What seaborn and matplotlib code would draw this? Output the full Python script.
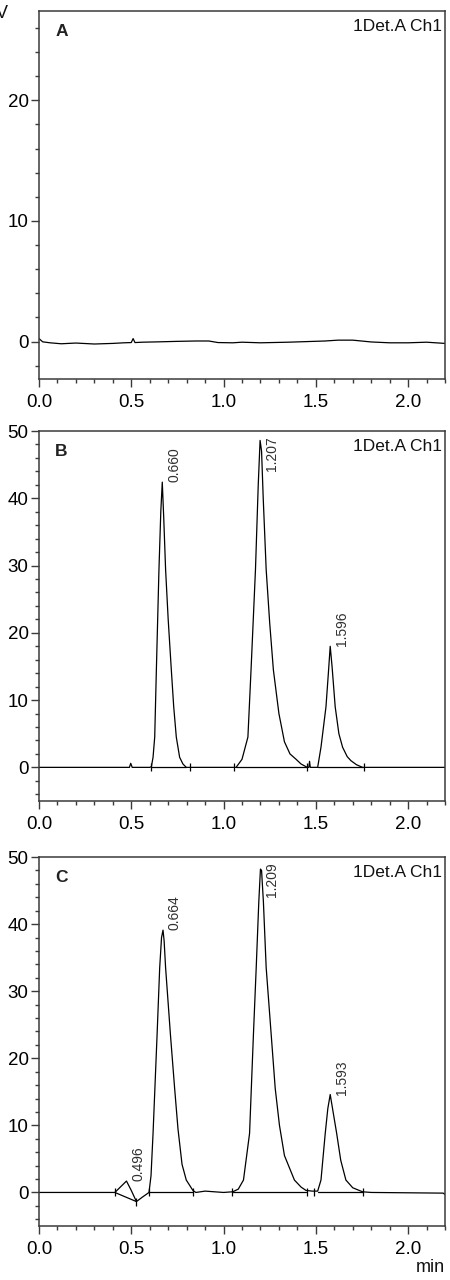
import numpy as np
import pandas as pd
import matplotlib
matplotlib.use("Agg")
import matplotlib.pyplot as plt
import seaborn as sns
from matplotlib import font_manager
from matplotlib.ticker import MultipleLocator

# ---------------- data ----------------
a_time = [0.0, 0.02, 0.06, 0.12, 0.20, 0.30, 0.40, 0.46, 0.50, 0.51, 0.52, 0.56, 0.65, 0.75, 0.85,
          0.92, 0.97, 1.05, 1.10, 1.20, 1.35, 1.45, 1.55, 1.62, 1.70, 1.80, 1.90, 2.00, 2.10, 2.20]
a_signal = [0.25, -0.02, -0.10, -0.18, -0.12, -0.20, -0.15, -0.10, -0.08, 0.25, -0.08, -0.05, -0.02, 0.02, 0.05,
            0.05, -0.08, -0.10, -0.05, -0.10, -0.05, 0.00, 0.05, 0.12, 0.12, -0.03, -0.10, -0.10, -0.05, -0.15]

b_time = [0.00, 0.49, 0.497, 0.505, 0.600, 0.609, 0.618, 0.627, 0.636, 0.650, 0.660, 0.668, 0.676, 0.686,
          0.700, 0.717, 0.730, 0.744, 0.762, 0.780, 0.798, 1.068, 1.100, 1.132, 1.149, 1.173, 1.188, 1.198,
          1.206, 1.215, 1.231, 1.250, 1.270, 1.300, 1.330, 1.360, 1.393, 1.420, 1.454, 1.462, 1.466, 1.470,
          1.510, 1.528, 1.555, 1.568, 1.578, 1.588, 1.605, 1.625, 1.645, 1.670, 1.690, 1.720, 1.753, 2.200]
b_signal = [0.0, 0.0, 0.6, 0.0, 0.0, 0.1, 1.5, 4.5, 14.5, 29.4, 38.0, 42.4, 37.0, 29.4,
            22.0, 14.5, 9.0, 4.5, 1.5, 0.5, 0.0, 0.0, 1.2, 4.5, 14.5, 29.4, 42.0, 48.6,
            47.0, 40.0, 29.4, 21.5, 14.5, 8.0, 3.8, 2.0, 1.2, 0.5, 0.0, 0.0, 0.9, 0.0,
            0.0, 3.0, 9.0, 14.0, 18.0, 15.0, 9.0, 5.0, 3.0, 1.6, 1.0, 0.4, 0.0, 0.0]

c_time = [0.000, 0.411, 0.474, 0.500, 0.528, 0.560, 0.596, 0.607, 0.618, 0.640, 0.654, 0.664, 0.672, 0.678,
          0.686, 0.712, 0.735, 0.753, 0.775, 0.798, 0.834, 0.850, 0.900, 0.950, 1.000, 1.050, 1.080, 1.108,
          1.141, 1.162, 1.177, 1.191, 1.200, 1.206, 1.216, 1.231, 1.258, 1.280, 1.303, 1.330, 1.384, 1.420,
          1.447, 1.480, 1.510, 1.528, 1.551, 1.565, 1.578, 1.590, 1.613, 1.635, 1.663, 1.700, 1.753, 1.800,
          2.190, 2.200]
c_signal = [0.0, 0.0, 1.7, 0.3, -1.36, -0.7, 0.0, 2.5, 8.8, 23.6, 33.5, 38.0, 39.1, 37.5,
            33.5, 23.6, 15.5, 9.5, 4.2, 1.85, 0.3, 0.0, 0.2, 0.1, 0.0, 0.1, 0.5, 1.85,
            8.8, 23.6, 33.5, 43.3, 48.2, 48.0, 43.3, 33.5, 23.6, 15.5, 10.0, 5.5, 1.85, 0.8,
            0.3, 0.2, 0.2, 1.85, 8.8, 12.5, 14.6, 12.6, 8.8, 4.8, 1.85, 0.7, 0.1, 0.0,
            -0.1, -0.3]

# integration baselines (start, end) per peak
b_base_start_t = [0.609, 1.068, 1.510]
b_base_start_y = [0.0, 0.0, 0.0]
b_base_end_t = [0.798, 1.454, 1.753]
b_base_end_y = [0.0, 0.0, 0.0]
c_base_start_t = [0.411, 0.596, 1.050, 1.510]
c_base_start_y = [0.0, 0.0, 0.0, 0.0]
c_base_end_t = [0.528, 0.834, 1.447, 1.753]
c_base_end_y = [-1.36, 0.0, 0.0, 0.0]

# integration tick marks
b_mark_t = [0.609, 0.816, 1.059, 1.450, 1.762]
b_mark_y = [0.0, 0.0, 0.0, 0.0, 0.0]
c_mark_t = [0.411, 0.528, 0.596, 0.834, 1.047, 1.450, 1.492, 1.753]
c_mark_y = [0.0, -1.36, 0.0, 0.0, 0.0, 0.0, 0.0, 0.0]

# peak apexes and labels
b_peak_t = [0.668, 1.198, 1.578]
b_peak_h = [42.4, 48.6, 18.0]
b_peak_lbl = ["0.660", "1.207", "1.596"]
c_peak_t = [0.474, 0.672, 1.200, 1.578]
c_peak_h = [1.7, 39.1, 48.2, 14.6]
c_peak_lbl = ["0.496", "0.664", "1.209", "1.593"]

panel_names = ["A", "B", "C"]
channel_label = "1Det.A Ch1"
x_ticks = [0.0, 0.5, 1.0, 1.5, 2.0]

# ---------------- style ----------------
sns.set_theme(style="ticks")
plt.rcParams["font.family"] = ["Liberation Sans", "DejaVu Sans"]
names = {f.name for f in font_manager.fontManager.ttflist}
narrow = "Liberation Sans Narrow" if "Liberation Sans Narrow" in names else "Liberation Sans"
ann_size = 12 if narrow == "Liberation Sans Narrow" else 10

spine_c = "#3a3a3a"
W, H = 450, 1280
fig = plt.figure(figsize=(W / 100, H / 100), dpi=100)
fig.patch.set_facecolor("white")

left = 39 / W
width = (445 - 39) / W
boxes = [(11, 379), (431, 801), (857, 1226)]
ylims = [(-3.1, 27.4), (-5, 50), (-5, 50)]
ymajor = [10, 10, 10]

traces = [(a_time, a_signal), (b_time, b_signal), (c_time, c_signal)]
bases = [None,
         (b_base_start_t, b_base_start_y, b_base_end_t, b_base_end_y),
         (c_base_start_t, c_base_start_y, c_base_end_t, c_base_end_y)]
marks = [None, (b_mark_t, b_mark_y), (c_mark_t, c_mark_y)]
peaks = [None, (b_peak_t, b_peak_h, b_peak_lbl), (c_peak_t, c_peak_h, c_peak_lbl)]

for i in range(3):
    top, bot = boxes[i]
    ax = fig.add_axes([left, 1 - bot / H, width, (bot - top) / H])
    df = pd.DataFrame({"t": traces[i][0], "s": traces[i][1]})
    sns.lineplot(data=df, x="t", y="s", ax=ax, color="black", lw=0.9,
                 estimator=None, sort=False)
    if bases[i] is not None:
        st, sy, et, ey = bases[i]
        rows = []
        for k in range(len(st)):
            rows.append({"t": st[k], "s": sy[k], "seg": k})
            rows.append({"t": et[k], "s": ey[k], "seg": k})
        bdf = pd.DataFrame(rows)
        sns.lineplot(data=bdf, x="t", y="s", units="seg", estimator=None, ax=ax,
                     color="black", lw=0.9, sort=False)
    if marks[i] is not None:
        mdf = pd.DataFrame({"t": marks[i][0], "s": marks[i][1]})
        sns.scatterplot(data=mdf, x="t", y="s", ax=ax, marker="|", s=30,
                        color="black", linewidth=0.9)
    if peaks[i] is not None:
        pt, ph, pl = peaks[i]
        for t, h, lbl in zip(pt, ph, pl):
            ax.annotate(lbl, xy=(t, min(h, 44.0)), xytext=(3.5, 0),
                        textcoords="offset points", rotation=90,
                        ha="left", va="bottom", fontsize=ann_size,
                        family=narrow, color="#303030")

    ax.set_xlim(0, 2.2)
    ax.set_ylim(*ylims[i])
    ax.set_xticks(x_ticks)
    ax.set_xticklabels([f"{v:.1f}" for v in x_ticks])
    ax.xaxis.set_minor_locator(MultipleLocator(0.1))
    ax.yaxis.set_major_locator(MultipleLocator(ymajor[i]))
    ax.yaxis.set_minor_locator(MultipleLocator(2))
    ax.set_xlabel("")
    ax.set_ylabel("")
    ax.tick_params(axis="both", which="major", length=5.5, width=1.0, color=spine_c,
                   labelsize=13.5, labelcolor="black", pad=2, direction="out")
    ax.tick_params(axis="both", which="minor", length=3, width=1.0, color=spine_c,
                   direction="out")
    ax.tick_params(axis="x", which="major", pad=5)
    for sp in ax.spines.values():
        sp.set_color(spine_c)
        sp.set_linewidth(1.1)
        sp.set_visible(True)
    ax.set_facecolor("white")
    ax.text(0.04, 0.945, panel_names[i], transform=ax.transAxes, ha="left", va="center",
            fontsize=12.5, fontweight="bold", color="#222222")
    ax.text(0.992, 0.958, channel_label, transform=ax.transAxes, ha="right", va="center",
            fontsize=12.5, color="#111111")

fig.text(9 / W, 1 - 13 / H, "mV", ha="right", va="center", fontsize=13, color="#111111")
fig.text(445 / W, 1 - 1268 / H, "min", ha="right", va="center", fontsize=13, color="#111111")

fig.savefig("out.png", dpi=100, facecolor="white")
